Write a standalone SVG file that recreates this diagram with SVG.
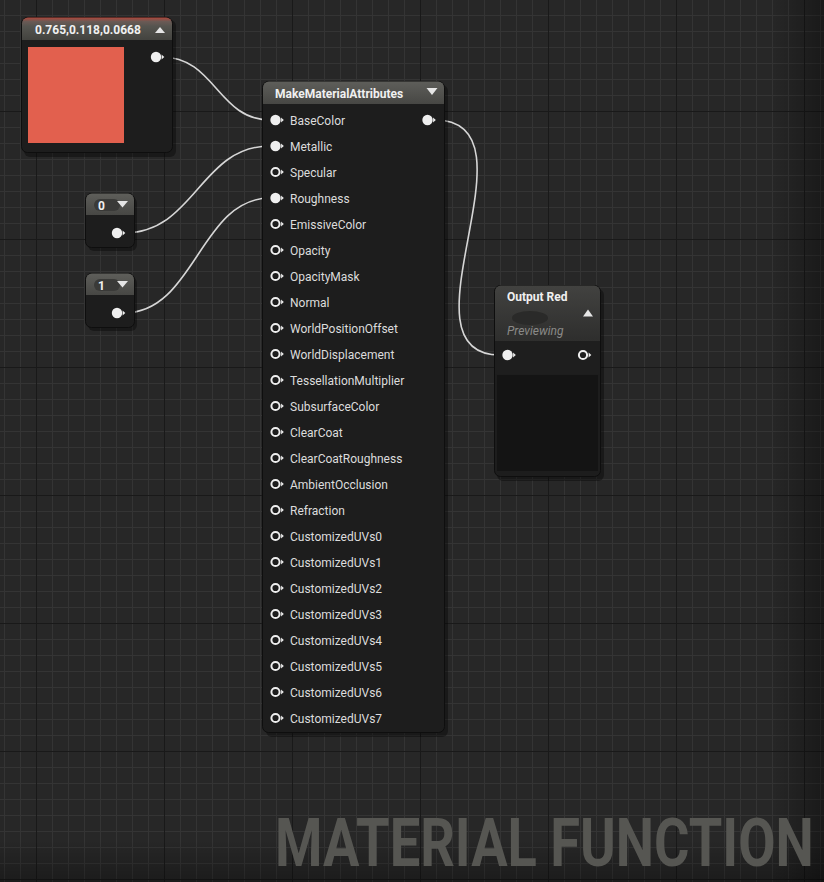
<svg xmlns="http://www.w3.org/2000/svg" xmlns:xlink="http://www.w3.org/1999/xlink" width="824" height="882" viewBox="0 0 824 882">
<defs>
<style>
.lbl{font-family:Roboto,"Liberation Sans",sans-serif;font-size:12px;fill:#dcdcdc}
.ttl{font-family:Roboto,"Liberation Sans",sans-serif;font-size:12px;font-weight:bold;fill:#f0f0f0}
.wire{fill:none;stroke:#d6d6d6;stroke-width:1.6}
.body{fill:#1d1d1d;stroke:#0e0e0e;stroke-width:1}
.shadow{fill:#000;opacity:0.35}
.tri{fill:#e6e6e6}
</style>
<pattern id="minor" width="16" height="16" patternUnits="userSpaceOnUse" x="4" y="15">
<rect width="16" height="16" fill="#272727"/>
<path d="M0 0.5H16M0.5 0V16" stroke="#343434" stroke-width="1"/>
</pattern>
<pattern id="major" width="128" height="128" patternUnits="userSpaceOnUse" x="36" y="111">
<path d="M0 0.5H128M0.5 0V128" stroke="#191919" stroke-width="1" fill="none"/>
</pattern>
<linearGradient id="vR" x1="0" y1="0" x2="1" y2="0">
<stop offset="0" stop-color="#000" stop-opacity="0"/>
<stop offset="1" stop-color="#000" stop-opacity="0.35"/>
</linearGradient>
<linearGradient id="vB" x1="0" y1="0" x2="0" y2="1">
<stop offset="0" stop-color="#000" stop-opacity="0"/>
<stop offset="1" stop-color="#000" stop-opacity="0.3"/>
</linearGradient>
<linearGradient id="hdrRed" x1="0" y1="0" x2="0" y2="1">
<stop offset="0" stop-color="#b0483c"/>
<stop offset="0.18" stop-color="#6a5a55"/>
<stop offset="0.4" stop-color="#55544f"/>
<stop offset="1" stop-color="#43433f"/>
</linearGradient>
<linearGradient id="hdrGray" x1="0" y1="0" x2="0" y2="1">
<stop offset="0" stop-color="#5e5e5a"/>
<stop offset="1" stop-color="#474744"/>
</linearGradient>
<linearGradient id="hdrOut" x1="0" y1="0" x2="0" y2="1">
<stop offset="0" stop-color="#424240"/>
<stop offset="1" stop-color="#2e2e2d"/>
</linearGradient>
<linearGradient id="bodyG" x1="0" y1="0" x2="1" y2="1">
<stop offset="0" stop-color="#202020"/>
<stop offset="1" stop-color="#1a1a1a"/>
</linearGradient>
<g id="pinF">
<circle cx="0" cy="0" r="5.2" fill="#efefef"/>
<path d="M5.6 -2.6L8.3 0L5.6 2.6Z" fill="#efefef"/>
</g>
<g id="pinH">
<circle cx="0" cy="0" r="4.1" fill="none" stroke="#efefef" stroke-width="2"/>
<path d="M5.6 -2.6L8.3 0L5.6 2.6Z" fill="#efefef"/>
</g>
</defs>

<!-- background grid -->
<rect width="824" height="882" fill="url(#minor)"/>
<rect width="824" height="882" fill="url(#major)"/>
<rect x="770" y="0" width="54" height="882" fill="url(#vR)"/>
<rect x="0" y="840" width="824" height="42" fill="url(#vB)"/>

<!-- watermark -->
<text transform="translate(275 866) scale(0.809 1)" x="0" y="0" font-family="Roboto,'Liberation Sans',sans-serif" font-weight="bold" font-size="67" fill="#565652">MATERIAL FUNCTION</text>

<!-- connectors -->
<g id="connectors">
<path class="wire" d="M162 57C215 57 218 120 270 120"/>
<path class="wire" d="M124 233C195 233 200 146 270 146"/>
<path class="wire" d="M124 313C195 313 200 198 270 198"/>
<path class="wire" d="M435 120C545 120 392 355 500 355"/>
</g>

<!-- Constant3Vector node -->
<g id="node-color">
<rect class="shadow" x="24" y="20" width="152" height="137" rx="6"/>
<rect class="body" x="21.5" y="17.5" width="151" height="135" rx="6"/>
<path d="M22 40V23.5A6 6 0 0 1 28 17.5H166A6 6 0 0 1 172 23.5V40Z" fill="url(#hdrRed)"/>
<text class="ttl" x="35" y="34">0.765,0.118,0.0668</text>
<path class="tri" d="M155 33L160 27L165 33Z"/>
<rect x="28" y="47" width="96" height="96" fill="#e2604e"/>
<use xlink:href="#pinF" x="156" y="57"/>
</g>

<!-- Constant 0 -->
<g id="node-const0">
<rect class="shadow" x="88" y="197" width="49" height="54" rx="6"/>
<rect class="body" x="85.5" y="193.5" width="49" height="54" rx="6"/>
<path d="M86 215V199.5A6 6 0 0 1 92 193.5H128A6 6 0 0 1 134 199.5V215Z" fill="url(#hdrGray)"/>
<rect x="94" y="199" width="26" height="12" rx="6" fill="#3a3a38"/>
<text class="ttl" x="98" y="209.5">0</text>
<path class="tri" d="M117 201L128 201L122.5 207.5Z"/>
<use xlink:href="#pinF" x="117" y="233"/>
</g>

<!-- Constant 1 -->
<g id="node-const1">
<rect class="shadow" x="88" y="277" width="49" height="54" rx="6"/>
<rect class="body" x="85.5" y="273.5" width="49" height="54" rx="6"/>
<path d="M86 295V279.5A6 6 0 0 1 92 273.5H128A6 6 0 0 1 134 279.5V295Z" fill="url(#hdrGray)"/>
<rect x="94" y="279" width="26" height="12" rx="6" fill="#3a3a38"/>
<text class="ttl" x="98" y="289.5">1</text>
<path class="tri" d="M117 281L128 281L122.5 287.5Z"/>
<use xlink:href="#pinF" x="117" y="313"/>
</g>

<!-- MakeMaterialAttributes -->
<g id="node-mma">
<rect class="shadow" x="266" y="85" width="182" height="652" rx="6"/>
<rect class="body" x="262.5" y="81.5" width="182" height="651" rx="6" fill="url(#bodyG)"/>
<path d="M263 104V87.5A6 6 0 0 1 269 81.5H438A6 6 0 0 1 444 87.5V104Z" fill="url(#hdrGray)"/>
<text class="ttl" x="275" y="97.5">MakeMaterialAttributes</text>
<path class="tri" d="M426.5 88L437.5 88L432 95Z"/>
<use xlink:href="#pinF" x="275.5" y="120"/>
<use xlink:href="#pinF" x="275.5" y="146"/>
<use xlink:href="#pinH" x="275.5" y="172"/>
<use xlink:href="#pinF" x="275.5" y="198"/>
<use xlink:href="#pinH" x="275.5" y="224"/>
<use xlink:href="#pinH" x="275.5" y="250"/>
<use xlink:href="#pinH" x="275.5" y="276"/>
<use xlink:href="#pinH" x="275.5" y="302"/>
<use xlink:href="#pinH" x="275.5" y="328"/>
<use xlink:href="#pinH" x="275.5" y="354"/>
<use xlink:href="#pinH" x="275.5" y="380"/>
<use xlink:href="#pinH" x="275.5" y="406"/>
<use xlink:href="#pinH" x="275.5" y="432"/>
<use xlink:href="#pinH" x="275.5" y="458"/>
<use xlink:href="#pinH" x="275.5" y="484"/>
<use xlink:href="#pinH" x="275.5" y="510"/>
<use xlink:href="#pinH" x="275.5" y="536"/>
<use xlink:href="#pinH" x="275.5" y="562"/>
<use xlink:href="#pinH" x="275.5" y="588"/>
<use xlink:href="#pinH" x="275.5" y="614"/>
<use xlink:href="#pinH" x="275.5" y="640"/>
<use xlink:href="#pinH" x="275.5" y="666"/>
<use xlink:href="#pinH" x="275.5" y="692"/>
<use xlink:href="#pinH" x="275.5" y="718"/>
<text class="lbl" x="290" y="124.5">BaseColor</text>
<text class="lbl" x="290" y="150.5">Metallic</text>
<text class="lbl" x="290" y="176.5">Specular</text>
<text class="lbl" x="290" y="202.5">Roughness</text>
<text class="lbl" x="290" y="228.5">EmissiveColor</text>
<text class="lbl" x="290" y="254.5">Opacity</text>
<text class="lbl" x="290" y="280.5">OpacityMask</text>
<text class="lbl" x="290" y="306.5">Normal</text>
<text class="lbl" x="290" y="332.5">WorldPositionOffset</text>
<text class="lbl" x="290" y="358.5">WorldDisplacement</text>
<text class="lbl" x="290" y="384.5">TessellationMultiplier</text>
<text class="lbl" x="290" y="410.5">SubsurfaceColor</text>
<text class="lbl" x="290" y="436.5">ClearCoat</text>
<text class="lbl" x="290" y="462.5">ClearCoatRoughness</text>
<text class="lbl" x="290" y="488.5">AmbientOcclusion</text>
<text class="lbl" x="290" y="514.5">Refraction</text>
<text class="lbl" x="290" y="540.5">CustomizedUVs0</text>
<text class="lbl" x="290" y="566.5">CustomizedUVs1</text>
<text class="lbl" x="290" y="592.5">CustomizedUVs2</text>
<text class="lbl" x="290" y="618.5">CustomizedUVs3</text>
<text class="lbl" x="290" y="644.5">CustomizedUVs4</text>
<text class="lbl" x="290" y="670.5">CustomizedUVs5</text>
<text class="lbl" x="290" y="696.5">CustomizedUVs6</text>
<text class="lbl" x="290" y="722.5">CustomizedUVs7</text>
<use xlink:href="#pinF" x="427.5" y="120"/>
</g>

<!-- Output Red -->
<g id="node-output">
<rect class="shadow" x="497" y="289" width="107" height="192" rx="6"/>
<rect class="body" x="494.5" y="285.5" width="106" height="191" rx="6"/>
<path d="M495 341V291.5A6 6 0 0 1 501 285.5H594A6 6 0 0 1 600 291.5V341Z" fill="url(#hdrOut)"/>
<ellipse cx="530" cy="318" rx="18" ry="7" fill="#2a2a29"/>
<text class="ttl" x="507" y="301">Output Red</text>
<path class="tri" d="M583 316.5L588 309.5L593 316.5Z"/>
<text x="507" y="335" font-family="Roboto,'Liberation Sans',sans-serif" font-size="12" font-style="italic" fill="#8a8a88">Previewing</text>
<rect x="495" y="341" width="105" height="33" fill="#1e1e1e"/>
<rect x="497" y="375" width="101" height="96" fill="#141414"/>
<use xlink:href="#pinF" x="507.5" y="355"/>
<use xlink:href="#pinH" x="583" y="355"/>
</g>
</svg>
